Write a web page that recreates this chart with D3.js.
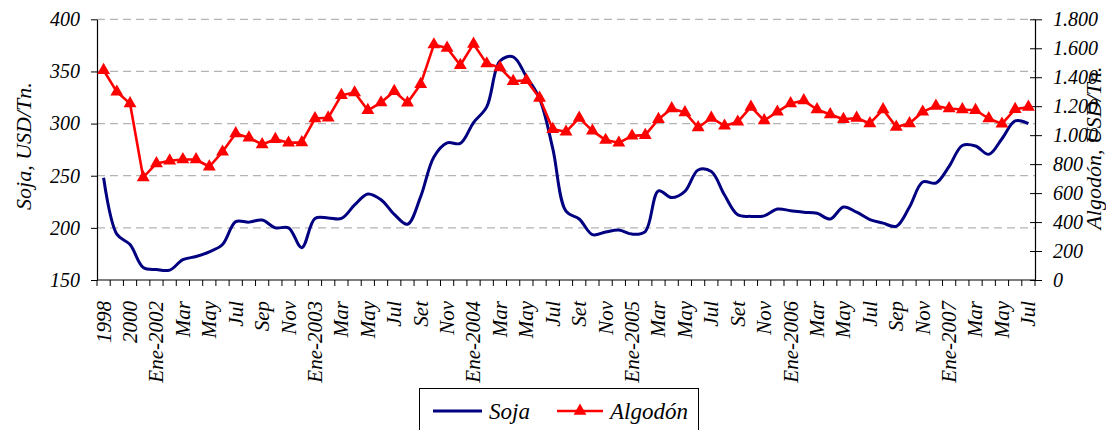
<!DOCTYPE html>
<html>
<head>
<meta charset="utf-8">
<script src="https://cdn.jsdelivr.net/npm/d3@7"></script>
<style>
  html, body { margin: 0; padding: 0; background: #ffffff; }
  svg { display: block; }
</style>
</head>
<body>
<svg id="chart" width="1106" height="430"></svg>
<script>
// Categories: annual points 1998-2001, then monthly from Ene-2002 to Jul-2007
const categories = [
  "1998", "1999", "2000", "2001",
  "Ene-2002", "Feb", "Mar", "Abr", "May", "Jun", "Jul", "Ago", "Sep", "Oct", "Nov", "Dic",
  "Ene-2003", "Feb", "Mar", "Abr", "May", "Jun", "Jul", "Ago", "Set", "Oct", "Nov", "Dic",
  "Ene-2004", "Feb", "Mar", "Abr", "May", "Jun", "Jul", "Ago", "Set", "Oct", "Nov", "Dic",
  "Ene-2005", "Feb", "Mar", "Abr", "May", "Jun", "Jul", "Ago", "Set", "Oct", "Nov", "Dic",
  "Ene-2006", "Feb", "Mar", "Abr", "May", "Jun", "Jul", "Ago", "Sep", "Oct", "Nov", "Dic",
  "Ene-2007", "Feb", "Mar", "Abr", "May", "Jun", "Jul"
];

// Soja, USD/Tn. (left axis)
const soja = [
  248, 194, 184, 162,
  160, 159.5, 169.5, 172.5, 177, 184, 206, 205.5, 207.5, 200, 200, 181,
  209, 209.5, 209, 222, 232.5, 227, 213, 203.5, 230, 268, 281.5, 281, 301, 316,
  360, 364, 345, 324, 276, 216, 208.5, 193.5, 196, 198, 194, 196.5,
  235.5, 229, 235, 255.5, 254, 231.5, 212.5, 211, 211.5,
  218, 216.5, 215, 214, 208.5, 220, 215, 208, 204.5, 201.5,
  220, 244, 243, 259, 279, 278.5, 270.5, 285.5, 302.5, 300
];

// Algodón, USD/Tn. (right axis)
const algodon = [
  1448, 1299, 1219, 708,
  805, 823, 832, 832, 782, 885, 1012, 982, 936, 972, 947, 950,
  1115, 1120, 1276, 1294, 1172, 1225, 1303, 1223, 1352, 1625, 1602, 1483, 1630, 1494,
  1467, 1372, 1379, 1257, 1041, 1023, 1119, 1030, 966, 947, 995, 1000,
  1110, 1184, 1157, 1053, 1119, 1064, 1092, 1195, 1101,
  1161, 1219, 1239, 1177, 1143, 1110, 1119, 1081, 1177, 1057,
  1081, 1161, 1202, 1184, 1177, 1172, 1115, 1078, 1179, 1195
];

const sojaTicks = [150, 200, 250, 300, 350, 400];
const algodonTicks = [0, 200, 400, 600, 800, 1000, 1200, 1400, 1600, 1800];
const gridValues = [200, 250, 300, 350, 400];

const FONT = '"Liberation Serif"';
const svg = d3.select("#chart");
const W = 1106, H = 430;
const plotLeft = 97, plotRight = 1035, plotTop = 19.3, plotBottom = 280;

// Apply the serif italic face to a text selection
const serif = sel => sel.style("font-family", FONT).style("font-style", "italic").attr("fill", "#000");

svg.append("rect").attr("width", W).attr("height", H).attr("fill", "#ffffff");

const idx = d3.range(categories.length);
const x = d3.scaleBand().domain(idx).range([plotLeft, plotRight]).paddingInner(0).paddingOuter(0);
const cx = i => x(i) + x.bandwidth() / 2;
const yL = d3.scaleLinear().domain([150, 400]).range([plotBottom, plotTop]);
const yR = d3.scaleLinear().domain([0, 1800]).range([plotBottom, plotTop]);

// Dashed horizontal gridlines on the Soja scale
svg.append("g").selectAll("line").data(gridValues).join("line")
  .attr("x1", plotLeft).attr("x2", plotRight)
  .attr("y1", d => yL(d)).attr("y2", d => yL(d))
  .attr("stroke", "#b4b4b4").attr("stroke-width", 1.3)
  .attr("stroke-dasharray", "8,5");

// Left axis
const fmtES = d3.formatLocale({ decimal: ",", thousands: ".", grouping: [3], currency: ["", ""] }).format(",");
const gL = svg.append("g").attr("transform", `translate(${plotLeft},0)`)
  .call(d3.axisLeft(yL).tickValues(sojaTicks).tickSize(6).tickSizeOuter(0).tickPadding(11));
gL.select(".domain").attr("stroke", "#000").attr("stroke-width", 1.2);
gL.selectAll(".tick line").attr("stroke", "#000");
gL.selectAll(".tick text").attr("font-size", 20).call(serif);

// Right axis
const gR = svg.append("g").attr("transform", `translate(${plotRight},0)`)
  .call(d3.axisRight(yR).tickValues(algodonTicks).tickFormat(fmtES).tickSize(7).tickSizeOuter(0).tickPadding(11));
gR.select(".domain").attr("stroke", "#000").attr("stroke-width", 1.2);
gR.selectAll(".tick line").attr("stroke", "#000");
gR.selectAll(".tick").append("line").attr("x1", 0).attr("x2", -5).attr("stroke", "#000");
gR.selectAll(".tick text").attr("font-size", 20).call(serif);

// Category axis: baseline, boundary ticks, rotated labels on every other category
svg.append("line").attr("x1", plotLeft).attr("x2", plotRight).attr("y1", plotBottom).attr("y2", plotBottom)
  .attr("stroke", "#000").attr("stroke-width", 1.2);
svg.append("g").selectAll("line").data(d3.range(categories.length + 1)).join("line")
  .attr("x1", i => i < categories.length ? x(i) : plotRight)
  .attr("x2", i => i < categories.length ? x(i) : plotRight)
  .attr("y1", plotBottom).attr("y2", plotBottom + 6)
  .attr("stroke", "#000");
svg.append("g").selectAll("text").data(idx.filter(i => i % 2 === 0)).join("text")
  .attr("transform", i => `translate(${cx(i)},${plotBottom + 21}) rotate(-90)`)
  .attr("dy", "0.33em")
  .attr("text-anchor", "end")
  .attr("font-size", 21)
  .call(serif)
  .text(i => categories[i]);

// Axis titles
svg.append("text").attr("transform", `translate(31,146) rotate(-90)`)
  .attr("text-anchor", "middle").attr("font-size", 22).call(serif)
  .text("Soja, USD/Tn.");
svg.append("text").attr("transform", `translate(1101,148) rotate(-90)`)
  .attr("text-anchor", "middle").attr("font-size", 22).call(serif)
  .text("Algodón, USD/Tn.");

// Soja: smoothed navy line
svg.append("path").datum(soja)
  .attr("fill", "none").attr("stroke", "#000080").attr("stroke-width", 3)
  .attr("stroke-linejoin", "round")
  .attr("d", d3.line().x((d, i) => cx(i)).y(d => yL(d)).curve(d3.curveCatmullRom.alpha(0.5)));

// Algodón: red line with triangle markers
svg.append("path").datum(algodon)
  .attr("fill", "none").attr("stroke", "#ff0000").attr("stroke-width", 2.6)
  .attr("stroke-linejoin", "round")
  .attr("d", d3.line().x((d, i) => cx(i)).y(d => yR(d)));
const tri = d3.symbol().type(d3.symbolTriangle).size(72);
svg.append("g").selectAll("path").data(algodon).join("path")
  .attr("transform", (d, i) => `translate(${cx(i)},${yR(d)})`)
  .attr("d", tri).attr("fill", "#ff0000");

// Legend
const lg = svg.append("g");
lg.append("rect").attr("x", 419.5).attr("y", 388.5).attr("width", 279).attr("height", 60)
  .attr("fill", "#ffffff").attr("stroke", "#000").attr("stroke-width", 1);
lg.append("line").attr("x1", 433).attr("x2", 482).attr("y1", 411).attr("y2", 411)
  .attr("stroke", "#000080").attr("stroke-width", 3);
lg.append("text").attr("x", 489).attr("y", 419).attr("font-size", 23).call(serif).text("Soja");
lg.append("line").attr("x1", 557).attr("x2", 603).attr("y1", 411).attr("y2", 411)
  .attr("stroke", "#ff0000").attr("stroke-width", 2.6);
lg.append("path").attr("transform", "translate(580,411)").attr("d", tri).attr("fill", "#ff0000");
lg.append("text").attr("x", 610).attr("y", 419).attr("font-size", 23).call(serif).text("Algodón");
</script>
</body>
</html>
